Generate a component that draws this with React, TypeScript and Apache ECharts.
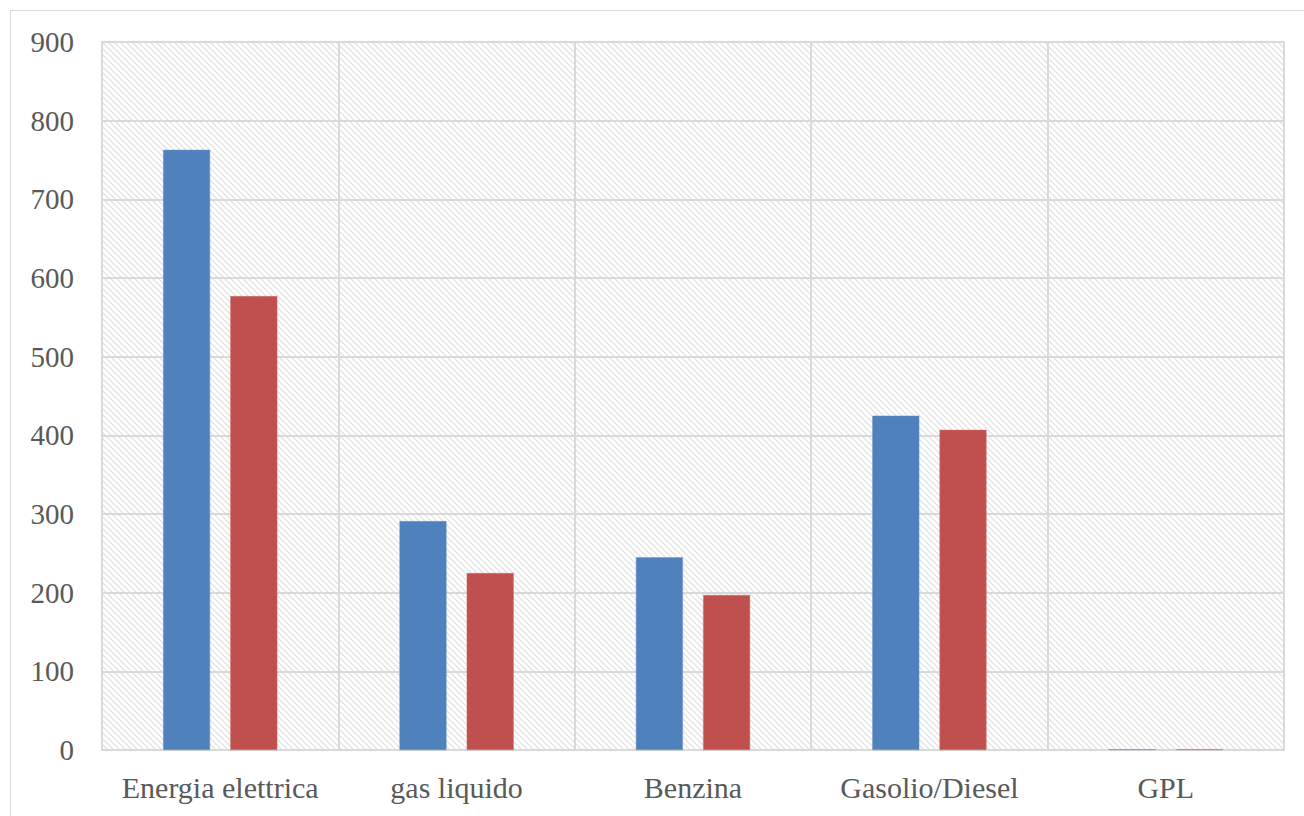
import React, { useEffect, useRef } from "react";
import * as echarts from "echarts";

const categories = ["Energia elettrica", "gas liquido", "Benzina", "Gasolio/Diesel", "GPL"];
const seriesA = [763, 291, 245, 425, 1];
const seriesB = [577, 225, 197, 407, 1];
const yTicks = { min: 0, max: 900, interval: 100 };

function makeHatch(): HTMLCanvasElement {
  const s = 6;
  const c = document.createElement("canvas");
  c.width = s;
  c.height = s;
  const ctx = c.getContext("2d")!;
  ctx.fillStyle = "#ffffff";
  ctx.fillRect(0, 0, s, s);
  ctx.strokeStyle = "#dedede";
  ctx.lineWidth = 1.1;
  ctx.beginPath();
  ctx.moveTo(-1, -1);
  ctx.lineTo(s + 1, s + 1);
  ctx.moveTo(-1, s - 1);
  ctx.lineTo(1, s + 1);
  ctx.moveTo(s - 1, -1);
  ctx.lineTo(s + 1, 1);
  ctx.stroke();
  return c;
}

export default function App() {
  const ref = useRef<HTMLDivElement>(null);
  useEffect(() => {
    if (!ref.current) return;
    const chart = echarts.init(ref.current, null, { renderer: "svg" });
    const font = "Liberation Serif";
    chart.setOption({
      animation: false,
      backgroundColor: "#ffffff",
      textStyle: { fontFamily: font },
      graphic: [
        {
          type: "rect",
          shape: { x: 10.5, y: 10.5, width: 1320, height: 830 },
          style: { fill: "none", stroke: "#d9d9d9", lineWidth: 1 },
          silent: true,
          z: -10,
        },
      ],
      grid: {
        left: 102,
        right: 20,
        top: 42,
        bottom: 66,
        show: true,
        backgroundColor: { image: makeHatch(), repeat: "repeat" },
        borderColor: "#d9d9d9",
        borderWidth: 2,
      },
      xAxis: {
        type: "category",
        data: categories,
        boundaryGap: true,
        axisLine: { show: true, lineStyle: { color: "#d9d9d9", width: 2 } },
        axisTick: { show: false },
        splitLine: { show: true, lineStyle: { color: "#d9d9d9", width: 2 } },
        axisLabel: {
          color: "#595959",
          fontFamily: font,
          fontSize: 30,
          margin: 22,
          interval: 0,
        },
      },
      yAxis: {
        type: "value",
        min: yTicks.min,
        max: yTicks.max,
        interval: yTicks.interval,
        axisLine: { show: false },
        axisTick: { show: false },
        splitLine: { show: true, lineStyle: { color: "#d9d9d9", width: 2 } },
        axisLabel: {
          color: "#595959",
          fontFamily: font,
          fontSize: 29,
          margin: 28,
        },
      },
      series: [
        {
          type: "bar",
          data: seriesA,
          barWidth: 47,
          barGap: "43%",
          itemStyle: { color: "#4f81bd", borderColor: "#6f97c9", borderWidth: 0.5 },
        },
        {
          type: "bar",
          data: seriesB,
          barWidth: 47,
          itemStyle: { color: "#c0504d", borderColor: "#d07370", borderWidth: 0.5 },
        },
      ],
    });
    return () => chart.dispose();
  }, []);
  return (
    <div
      ref={ref}
      style={{ position: "fixed", left: 0, top: 0, width: 1304, height: 816 }}
    />
  );
}
